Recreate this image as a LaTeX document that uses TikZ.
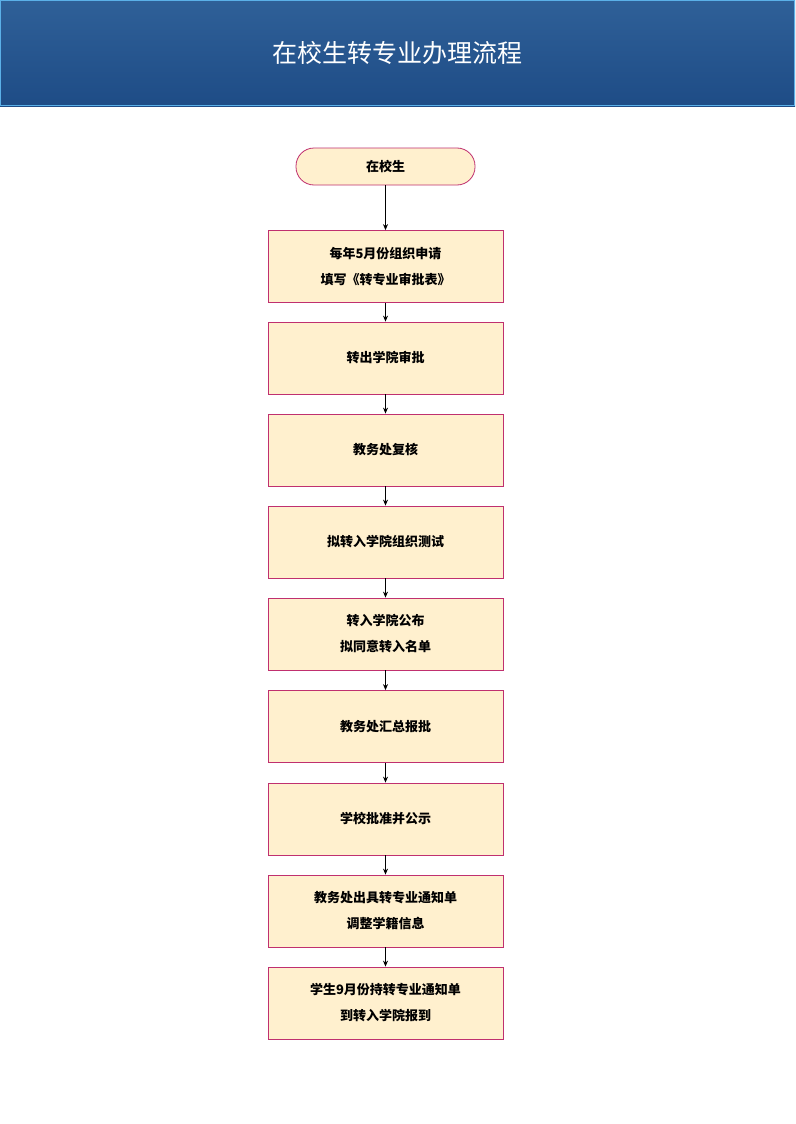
\documentclass[tikz,border=0pt]{standalone}
\usepackage{fontspec}
\newfontfamily\cjk{Noto Sans CJK SC}
\usetikzlibrary{arrows.meta}
\definecolor{hdtop}{HTML}{2F6098}
\definecolor{hdbot}{HTML}{1E4C86}
\definecolor{hdline}{HTML}{5BB0E8}
\definecolor{boxfill}{HTML}{FFF0CE}
\definecolor{boxline}{HTML}{C0306F}
\begin{document}
\begin{tikzpicture}[x=1pt,y=-1pt,
  stepbox/.style={draw=boxline,fill=boxfill,line width=0.8pt,minimum width=235pt,minimum height=72pt,align=center,font=\cjk\bfseries\fontsize{13}{26}\selectfont,inner sep=2pt},
  startbox/.style={draw=boxline,fill=boxfill,line width=0.8pt,minimum width=179pt,minimum height=37pt,rounded corners=18pt,font=\cjk\bfseries\fontsize{13}{16}\selectfont},
  arr/.style={-{Stealth[length=6pt,width=5pt]},line width=0.8pt}]
\useasboundingbox (0,0) rectangle (795,1124);
\fill[white] (0,0) rectangle (795,1124);
\shade[top color=hdtop,bottom color=hdbot] (0,0) rectangle (795,106);
\draw[hdline,line width=1pt] (0.5,0.5) rectangle (794.5,105.5);
\node[text=white,font=\cjk\fontsize{25}{30}\selectfont] (title) at (397,53) {在校生转专业办理流程};
\node[startbox] (s) at (385.5,166.5) {在校生};
\node[stepbox] (b1) at (385.5,266.5) {每年5月份组织申请\\填写《转专业审批表》};
\node[stepbox] (b2) at (385.5,358) {转出学院审批};
\node[stepbox] (b3) at (385.5,450) {教务处复核};
\node[stepbox] (b4) at (385.5,542) {拟转入学院组织测试};
\node[stepbox] (b5) at (385.5,634) {转入学院公布\\拟同意转入名单};
\node[stepbox] (b6) at (385.5,726.5) {教务处汇总报批};
\node[stepbox] (b7) at (385.5,819) {学校批准并公示};
\node[stepbox] (b8) at (385.5,911) {教务处出具转专业通知单\\调整学籍信息};
\node[stepbox] (b9) at (385.5,1003) {学生9月份持转专业通知单\\到转入学院报到};
\foreach \a/\b in {s/b1,b1/b2,b2/b3,b3/b4,b4/b5,b5/b6,b6/b7,b7/b8,b8/b9}
  \draw[arr] (\a) -- (\b);
\end{tikzpicture}
\end{document}
